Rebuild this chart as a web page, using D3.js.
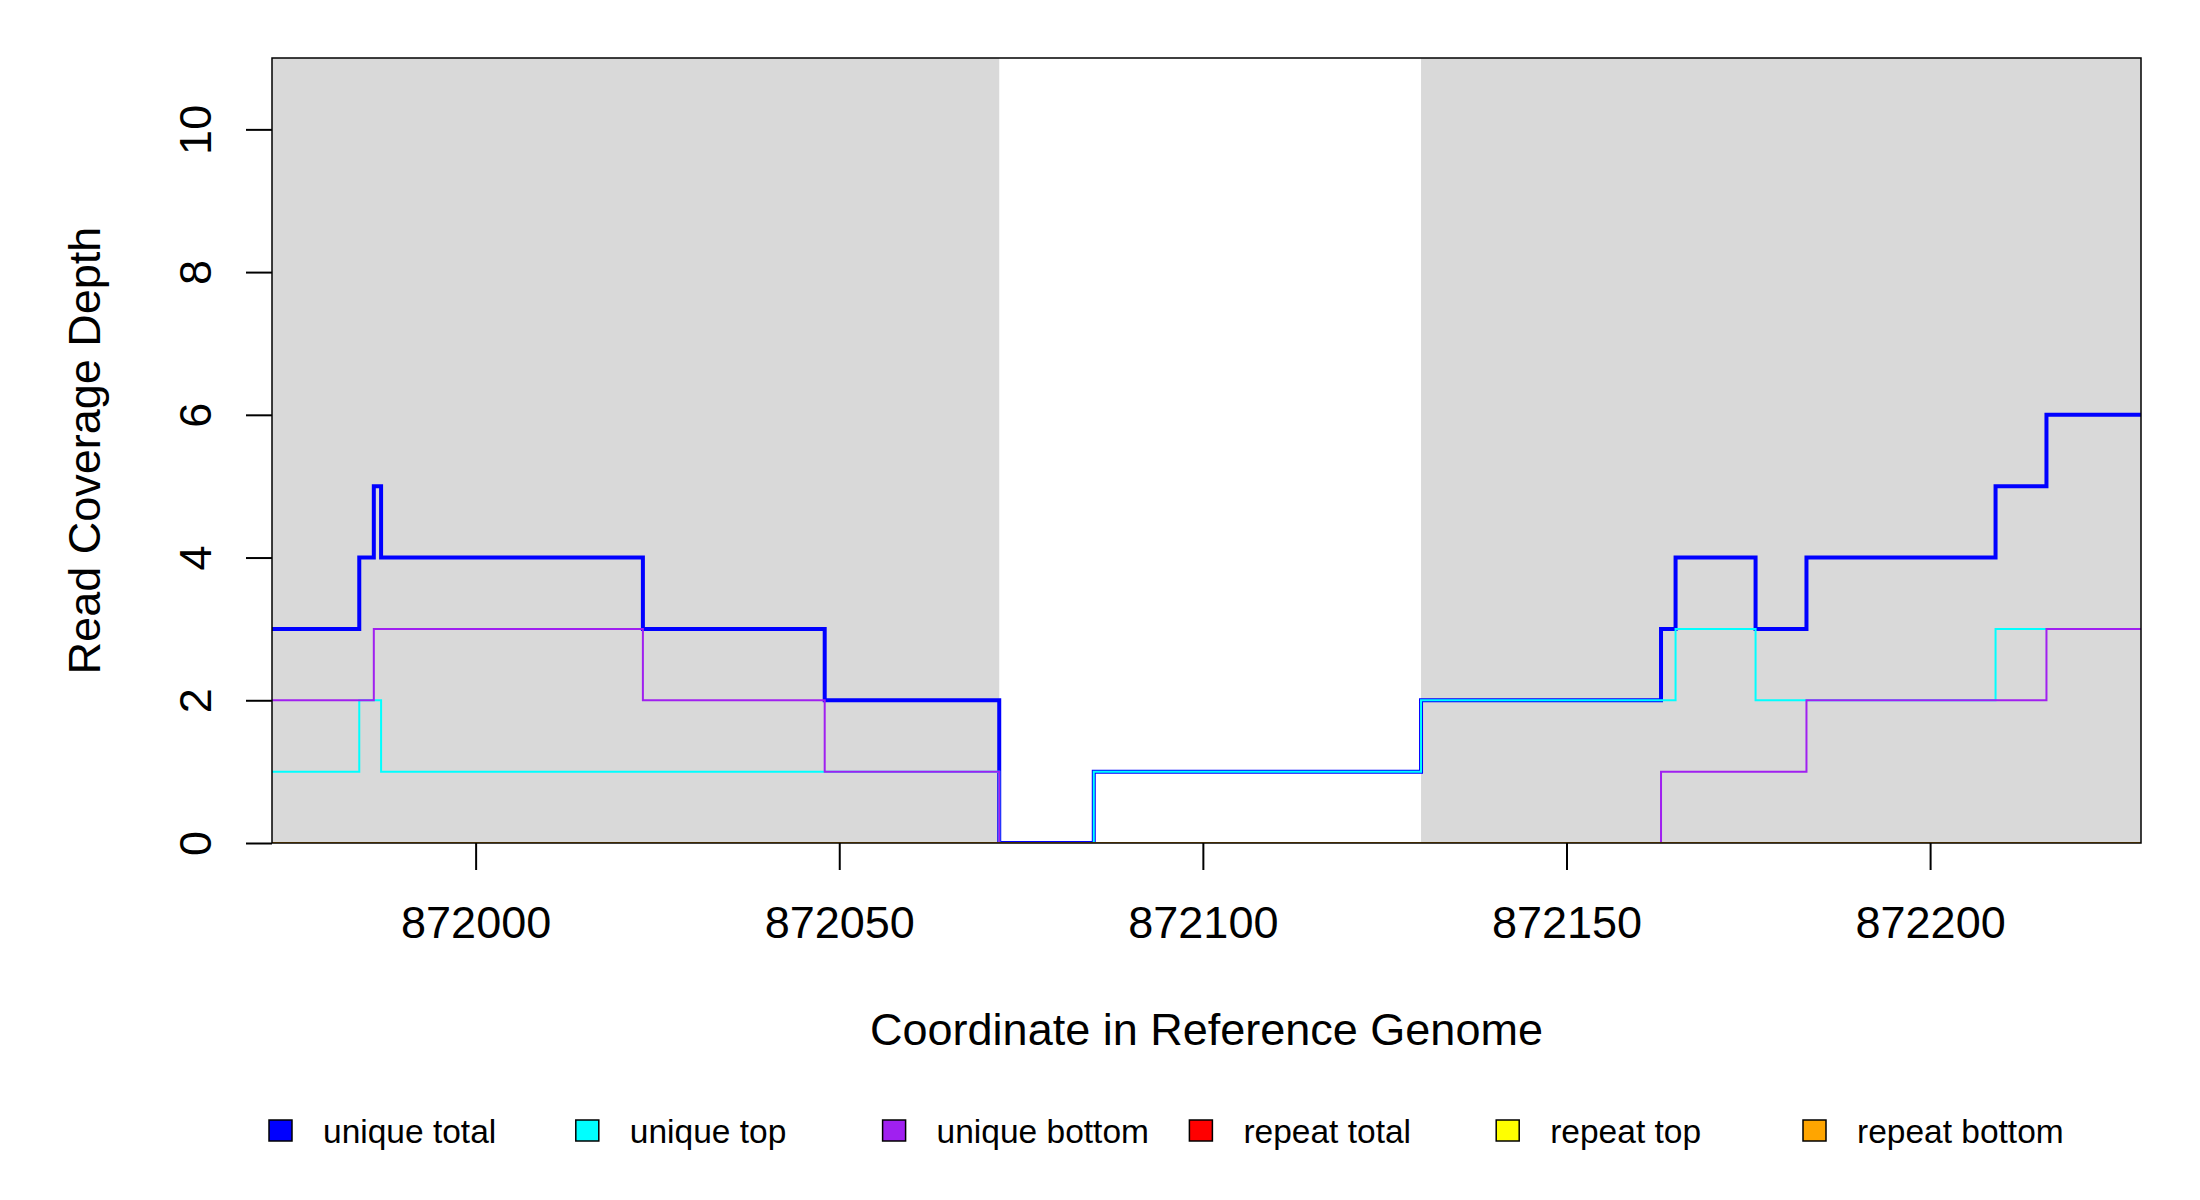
<!DOCTYPE html>
<html>
<head>
<meta charset="utf-8">
<script src="https://cdn.jsdelivr.net/npm/d3@7"></script>
<style>
    body { margin: 0; background: #fff; }
    #coverage-chart { width: 2200px; height: 1200px; }
    text { font-family: "Liberation Sans", Arial, sans-serif; fill: #000; }
</style>
</head>
<body>
<div id="coverage-chart"></div>
<script>
// Step start positions (type="s"), last value repeats to the end
const positions = [871972, 871984, 871986, 871987, 872023, 872048, 872072, 872085,
                   872130, 872163, 872165, 872176, 872183, 872209, 872216, 872229];
const uniqueTotal  = [3, 4, 5, 4, 3, 2, 0, 1, 2, 3, 4, 3, 4, 5, 6, 6];
const uniqueTop    = [1, 2, 2, 1, 1, 1, 0, 1, 2, 2, 3, 2, 2, 3, 3, 3];
const uniqueBottom = [2, 2, 3, 3, 2, 1, 0, 0, 0, 1, 1, 1, 2, 2, 3, 3];
const repeatTotal  = [0, 0, 0, 0, 0, 0, 0, 0, 0, 0, 0, 0, 0, 0, 0, 0];
const repeatTop    = [0, 0, 0, 0, 0, 0, 0, 0, 0, 0, 0, 0, 0, 0, 0, 0];
const repeatBottom = [0, 0, 0, 0, 0, 0, 0, 0, 0, 0, 0, 0, 0, 0, 0, 0];

// Shaded flanking regions
const shadedRegions = [[871972, 872072], [872130, 872229]];

const xDomain = [871972, 872229];
const yDomain = [0, 11];
const xTicks = [872000, 872050, 872100, 872150, 872200];
const yTicks = [0, 2, 4, 6, 8, 10];

const seriesNames  = ['unique total', 'unique top', 'unique bottom', 'repeat total', 'repeat top', 'repeat bottom'];
const seriesColors = ['#0000ff', '#00ffff', '#a020f0', '#ff0000', '#ffff00', '#ffa500'];
const seriesValues = [uniqueTotal, uniqueTop, uniqueBottom, repeatTotal, repeatTop, repeatBottom];
const seriesWidths = [4, 2, 2, 2, 2, 2];

const CoverageChart = {
    create() {
        const container = d3.select('#coverage-chart');
        container.selectAll('*').remove();

        const margin = { top: 58, right: 59, bottom: 357, left: 272 };
        const fullWidth = 2200, fullHeight = 1200;
        const width = fullWidth - margin.left - margin.right;
        const height = fullHeight - margin.top - margin.bottom;

        const svg = container.append('svg')
            .attr('width', fullWidth)
            .attr('height', fullHeight);

        const g = svg.append('g')
            .attr('transform', `translate(${margin.left},${margin.top})`);

        const xScale = d3.scaleLinear().domain(xDomain).range([0, width]);
        const yScale = d3.scaleLinear().domain(yDomain).range([height, 0]);
        const scales = { xScale, yScale };

        g.append('clipPath')
            .attr('id', 'plot-clip')
            .append('rect')
            .attr('width', width)
            .attr('height', height);

        this.createRegions(g, scales, height);
        this.createLines(g, scales);
        this.createAxes(g, scales, width, height);
        this.createLegend(svg);
    },

    createRegions(g, scales, height) {
        g.selectAll('.region')
            .data(shadedRegions)
            .enter().append('rect')
            .attr('class', 'region')
            .attr('x', d => scales.xScale(d[0]))
            .attr('width', d => scales.xScale(d[1]) - scales.xScale(d[0]))
            .attr('y', 0)
            .attr('height', height)
            .attr('fill', '#d9d9d9');
    },

    createLines(g, scales) {
        const line = d3.line()
            .x(d => scales.xScale(d.pos))
            .y(d => scales.yScale(d.value))
            .curve(d3.curveStepAfter);

        const lines = g.append('g').attr('clip-path', 'url(#plot-clip)');

        seriesValues.forEach((values, i) => {
            const data = positions.map((pos, j) => ({ pos, value: values[j] }));
            lines.append('path')
                .datum(data)
                .attr('fill', 'none')
                .attr('stroke', seriesColors[i])
                .attr('stroke-width', seriesWidths[i])
                .attr('stroke-linejoin', 'miter')
                .attr('d', line);
        });
    },

    createAxes(g, scales, width, height) {
        const xAxis = d3.axisBottom(scales.xScale)
            .tickValues(xTicks)
            .tickSize(27)
            .tickPadding(17)
            .tickFormat(d3.format('d'));

        const xg = g.append('g')
            .attr('transform', `translate(0,${height})`)
            .call(xAxis);
        xg.select('.domain').remove();
        xg.selectAll('line').attr('stroke', '#000').attr('stroke-width', 2);
        xg.selectAll('text')
            .attr('dy', null)
            .attr('y', 95)
            .style('font-family', '"Liberation Sans", Arial, sans-serif')
            .style('font-size', '45px');

        const yAxis = d3.axisLeft(scales.yScale)
            .tickValues(yTicks)
            .tickSize(26);

        const yg = g.append('g').call(yAxis);
        yg.select('.domain').remove();
        yg.selectAll('line').attr('stroke', '#000').attr('stroke-width', 2);
        yg.selectAll('text')
            .attr('x', null)
            .attr('dy', null)
            .attr('transform', 'translate(-61,0) rotate(-90)')
            .style('text-anchor', 'middle')
            .style('font-family', '"Liberation Sans", Arial, sans-serif')
            .style('font-size', '45px');

        // Frame around the plot
        g.append('rect')
            .attr('width', width)
            .attr('height', height)
            .attr('fill', 'none')
            .attr('stroke', '#000')
            .attr('stroke-width', 1.5);

        g.append('text')
            .attr('transform', `translate(-172,${height / 2}) rotate(-90)`)
            .style('text-anchor', 'middle')
            .style('font-size', '45px')
            .text('Read Coverage Depth');

        g.append('text')
            .attr('x', width / 2)
            .attr('y', height + 202)
            .style('text-anchor', 'middle')
            .style('font-size', '45px')
            .text('Coordinate in Reference Genome');
    },

    createLegend(svg) {
        const legend = svg.append('g')
            .attr('class', 'legend')
            .attr('transform', 'translate(269, 1120)');

        seriesNames.forEach((name, i) => {
            const row = legend.append('g')
                .attr('transform', `translate(${i * 306.8}, 0)`);

            row.append('rect')
                .attr('width', 23)
                .attr('height', 21)
                .attr('fill', seriesColors[i])
                .attr('stroke', '#000')
                .attr('stroke-width', 1.5);

            row.append('text')
                .attr('x', 54)
                .attr('y', 23)
                .style('font-size', '33.5px')
                .text(name);
        });
    }
};

CoverageChart.create();
</script>
</body>
</html>
